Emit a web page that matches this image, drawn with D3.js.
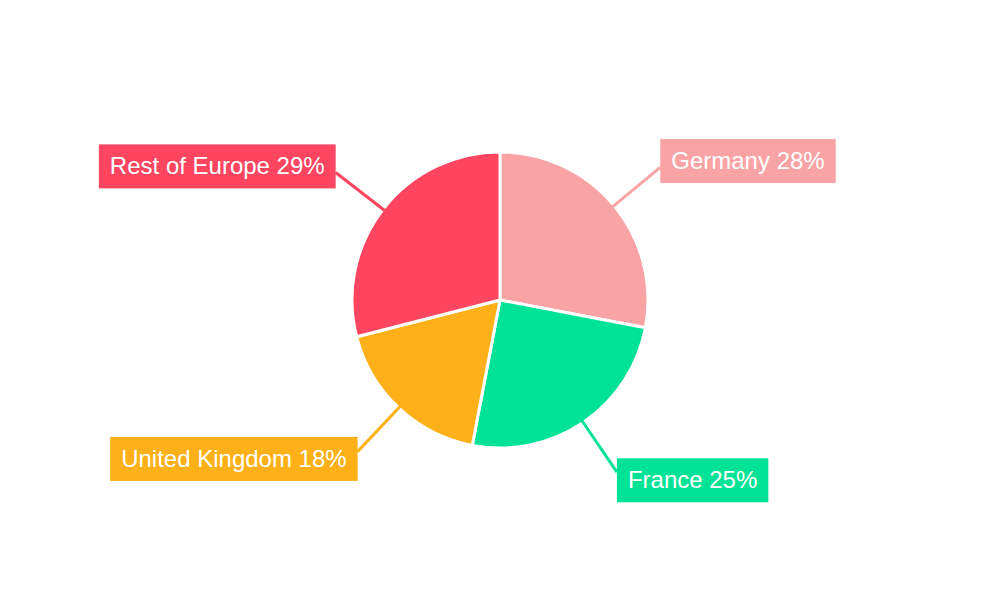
<!DOCTYPE html>
<html>
<head>
<meta charset="utf-8">
<script src="https://cdn.jsdelivr.net/npm/d3@7"></script>
<style>
  body { margin: 0; background: #fff; }
  text { font-family: "Liberation Sans", Arial, sans-serif; }
</style>
</head>
<body>
<div id="chart-area"></div>
<script>
const countries = ["Germany", "France", "United Kingdom", "Rest of Europe"];
const shares = [28, 25, 18, 29];
const colors = ["#F9A3A4", "#00E396", "#FEB019", "#FF4560"];

const width = 1000;
const height = 600;
const radius = 148;
const labelRadius = 208;

const data = countries.map((c, i) => ({country: c, share: shares[i], color: colors[i]}));

const svg = d3.select('#chart-area')
              .append('svg')
              .attr('width', width)
              .attr('height', height)
              .append('g')
              .attr('transform', `translate(500, 300)`);

const pie = d3.pie().sort(null).value(d => d.share);
const arc = d3.arc().innerRadius(0).outerRadius(radius);
const arcs = pie(data);

svg.selectAll('path.slice')
   .data(arcs)
   .enter()
   .append('path')
   .attr('class', 'slice')
   .attr('d', arc)
   .attr('fill', d => d.data.color)
   .attr('stroke', '#fff')
   .attr('stroke-width', 3);

// leader lines + label boxes
const mid = d => (d.startAngle + d.endAngle) / 2;

svg.selectAll('line.leader')
   .data(arcs)
   .enter()
   .append('line')
   .attr('class', 'leader')
   .attr('x1', d => Math.sin(mid(d)) * (radius - 2))
   .attr('y1', d => -Math.cos(mid(d)) * (radius - 2))
   .attr('x2', d => Math.sin(mid(d)) * labelRadius)
   .attr('y2', d => -Math.cos(mid(d)) * labelRadius)
   .attr('stroke', d => d.data.color)
   .attr('stroke-width', 3);

const labels = svg.selectAll('g.label')
                  .data(arcs)
                  .enter()
                  .append('g')
                  .attr('class', 'label');

labels.each(function(d) {
    const g = d3.select(this);
    const a = mid(d);
    const ex = Math.sin(a) * labelRadius;
    const ey = -Math.cos(a) * labelRadius;
    const rect = g.append('rect').attr('fill', d.data.color);
    const txt = g.append('text')
                 .attr('fill', '#fff')
                 .attr('font-size', 24)
                 .text(`${d.data.country} ${d.data.share}%`);
    const w = txt.node().getComputedTextLength() + 22;
    const h = 44;
    const left = ex >= 0 ? ex : ex - w;
    const top = ey - 22 - 10 * Math.cos(a);
    rect.attr('x', left).attr('y', top).attr('width', w).attr('height', h);
    txt.attr('x', left + 11).attr('y', top + 30);
});
</script>
</body>
</html>
